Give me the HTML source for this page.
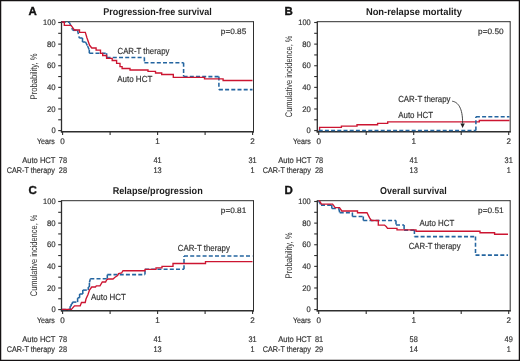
<!DOCTYPE html>
<html><head><meta charset="utf-8"><style>
html,body{margin:0;padding:0;background:#fff;}
body{width:520px;height:361px;overflow:hidden;}
svg{display:block;font-family:"Liberation Sans", sans-serif;will-change:transform;text-rendering:geometricPrecision;filter:blur(0.25px);}
</style></head><body>
<svg width="520" height="361" viewBox="0 0 520 361">
<rect x="0" y="0" width="520" height="361" fill="#fff"/>
<text x="28.6" y="14.8" font-size="11.6" text-anchor="start" font-weight="bold" fill="#111" textLength="8.3" lengthAdjust="spacingAndGlyphs" stroke="#111" stroke-width="0.35">A</text>
<text x="103.2" y="14.8" font-size="9.9" text-anchor="start" font-weight="bold" fill="#1c1c1c" textLength="108.5" lengthAdjust="spacingAndGlyphs">Progression-free survival</text>
<line x1="61.5" y1="21.7" x2="253.5" y2="21.7" stroke="#2e2e2e" stroke-width="1.0"/>
<line x1="253.5" y1="21.2" x2="253.5" y2="132.4" stroke="#2e2e2e" stroke-width="1.0"/>
<line x1="61.5" y1="21.2" x2="61.5" y2="132.5" stroke="#2e2e2e" stroke-width="1.3"/>
<line x1="60.9" y1="131.8" x2="254.0" y2="131.8" stroke="#2e2e2e" stroke-width="1.4"/>
<line x1="58.2" y1="130.6" x2="61.5" y2="130.6" stroke="#2e2e2e" stroke-width="1.1"/>
<line x1="58.2" y1="119.78999999999999" x2="61.5" y2="119.78999999999999" stroke="#2e2e2e" stroke-width="1.1"/>
<line x1="58.2" y1="108.97999999999999" x2="61.5" y2="108.97999999999999" stroke="#2e2e2e" stroke-width="1.1"/>
<line x1="58.2" y1="98.16999999999999" x2="61.5" y2="98.16999999999999" stroke="#2e2e2e" stroke-width="1.1"/>
<line x1="58.2" y1="87.36" x2="61.5" y2="87.36" stroke="#2e2e2e" stroke-width="1.1"/>
<line x1="58.2" y1="76.55" x2="61.5" y2="76.55" stroke="#2e2e2e" stroke-width="1.1"/>
<line x1="58.2" y1="65.74" x2="61.5" y2="65.74" stroke="#2e2e2e" stroke-width="1.1"/>
<line x1="58.2" y1="54.92999999999999" x2="61.5" y2="54.92999999999999" stroke="#2e2e2e" stroke-width="1.1"/>
<line x1="58.2" y1="44.120000000000005" x2="61.5" y2="44.120000000000005" stroke="#2e2e2e" stroke-width="1.1"/>
<line x1="58.2" y1="33.31" x2="61.5" y2="33.31" stroke="#2e2e2e" stroke-width="1.1"/>
<line x1="58.2" y1="22.5" x2="61.5" y2="22.5" stroke="#2e2e2e" stroke-width="1.1"/>
<text x="55.6" y="133.35" font-size="8.0" text-anchor="end" font-weight="normal" fill="#333333" textLength="4.2" lengthAdjust="spacingAndGlyphs" stroke="#333333" stroke-width="0.18">0</text>
<text x="55.6" y="111.72999999999999" font-size="8.0" text-anchor="end" font-weight="normal" fill="#333333" textLength="8.6" lengthAdjust="spacingAndGlyphs" stroke="#333333" stroke-width="0.18">20</text>
<text x="55.6" y="90.11" font-size="8.0" text-anchor="end" font-weight="normal" fill="#333333" textLength="8.6" lengthAdjust="spacingAndGlyphs" stroke="#333333" stroke-width="0.18">40</text>
<text x="55.6" y="68.49" font-size="8.0" text-anchor="end" font-weight="normal" fill="#333333" textLength="8.6" lengthAdjust="spacingAndGlyphs" stroke="#333333" stroke-width="0.18">60</text>
<text x="55.6" y="46.870000000000005" font-size="8.0" text-anchor="end" font-weight="normal" fill="#333333" textLength="8.6" lengthAdjust="spacingAndGlyphs" stroke="#333333" stroke-width="0.18">80</text>
<text x="55.6" y="25.25" font-size="8.0" text-anchor="end" font-weight="normal" fill="#333333" textLength="12.5" lengthAdjust="spacingAndGlyphs" stroke="#333333" stroke-width="0.18">100</text>
<line x1="62.6" y1="131.8" x2="62.6" y2="135.0" stroke="#2e2e2e" stroke-width="1.1"/>
<line x1="110.1" y1="131.8" x2="110.1" y2="135.0" stroke="#2e2e2e" stroke-width="1.1"/>
<line x1="157.6" y1="131.8" x2="157.6" y2="135.0" stroke="#2e2e2e" stroke-width="1.1"/>
<line x1="205.1" y1="131.8" x2="205.1" y2="135.0" stroke="#2e2e2e" stroke-width="1.1"/>
<line x1="252.6" y1="131.8" x2="252.6" y2="135.0" stroke="#2e2e2e" stroke-width="1.1"/>
<text x="62.6" y="144.1" font-size="8.2" text-anchor="middle" font-weight="normal" fill="#333333" textLength="4.5" lengthAdjust="spacingAndGlyphs" stroke="#333333" stroke-width="0.18">0</text>
<text x="157.6" y="144.1" font-size="8.2" text-anchor="middle" font-weight="normal" fill="#333333" textLength="4.5" lengthAdjust="spacingAndGlyphs" stroke="#333333" stroke-width="0.18">1</text>
<text x="252.6" y="144.1" font-size="8.2" text-anchor="middle" font-weight="normal" fill="#333333" textLength="4.5" lengthAdjust="spacingAndGlyphs" stroke="#333333" stroke-width="0.18">2</text>
<text x="54.8" y="144.1" font-size="8.0" text-anchor="end" font-weight="normal" fill="#333333" textLength="17.8" lengthAdjust="spacingAndGlyphs" stroke="#333333" stroke-width="0.18">Years</text>
<text x="0" y="0" font-size="9.6" text-anchor="middle" fill="#333333" textLength="46" lengthAdjust="spacingAndGlyphs" transform="translate(36.6,76.4) rotate(-90)">Probability, %</text>
<text x="246.3" y="33.7" font-size="7.9" text-anchor="end" font-weight="normal" fill="#333333" textLength="25.5" lengthAdjust="spacingAndGlyphs" stroke="#333333" stroke-width="0.18">p=0.85</text>
<text x="55.5" y="163.2" font-size="8.2" text-anchor="end" font-weight="normal" fill="#333333" textLength="33.3" lengthAdjust="spacingAndGlyphs" stroke="#333333" stroke-width="0.18">Auto HCT</text>
<text x="54.9" y="173.1" font-size="8.2" text-anchor="end" font-weight="normal" fill="#333333" textLength="48.2" lengthAdjust="spacingAndGlyphs" stroke="#333333" stroke-width="0.18">CAR-T therapy</text>
<text x="62.9" y="163.2" font-size="8.2" text-anchor="middle" font-weight="normal" fill="#333333" textLength="8.2" lengthAdjust="spacingAndGlyphs" stroke="#333333" stroke-width="0.18">78</text>
<text x="62.9" y="173.1" font-size="8.2" text-anchor="middle" font-weight="normal" fill="#333333" textLength="8.2" lengthAdjust="spacingAndGlyphs" stroke="#333333" stroke-width="0.18">28</text>
<text x="157.6" y="163.2" font-size="8.2" text-anchor="middle" font-weight="normal" fill="#333333" textLength="8.2" lengthAdjust="spacingAndGlyphs" stroke="#333333" stroke-width="0.18">41</text>
<text x="157.6" y="173.1" font-size="8.2" text-anchor="middle" font-weight="normal" fill="#333333" textLength="8.2" lengthAdjust="spacingAndGlyphs" stroke="#333333" stroke-width="0.18">13</text>
<text x="252.6" y="163.2" font-size="8.2" text-anchor="middle" font-weight="normal" fill="#333333" textLength="8.2" lengthAdjust="spacingAndGlyphs" stroke="#333333" stroke-width="0.18">31</text>
<text x="252.6" y="173.1" font-size="8.2" text-anchor="middle" font-weight="normal" fill="#333333" textLength="4.0" lengthAdjust="spacingAndGlyphs" stroke="#333333" stroke-width="0.18">1</text>
<text x="284.6" y="14.8" font-size="11.6" text-anchor="start" font-weight="bold" fill="#111" textLength="8.3" lengthAdjust="spacingAndGlyphs" stroke="#111" stroke-width="0.35">B</text>
<text x="365.9" y="14.8" font-size="9.9" text-anchor="start" font-weight="bold" fill="#1c1c1c" textLength="96.0" lengthAdjust="spacingAndGlyphs">Non-relapse mortality</text>
<line x1="317.3" y1="21.7" x2="510.2" y2="21.7" stroke="#2e2e2e" stroke-width="1.0"/>
<line x1="510.2" y1="21.2" x2="510.2" y2="132.4" stroke="#2e2e2e" stroke-width="1.0"/>
<line x1="317.3" y1="21.2" x2="317.3" y2="132.5" stroke="#2e2e2e" stroke-width="1.3"/>
<line x1="316.7" y1="131.8" x2="510.7" y2="131.8" stroke="#2e2e2e" stroke-width="1.4"/>
<line x1="314.2" y1="130.6" x2="317.3" y2="130.6" stroke="#2e2e2e" stroke-width="1.1"/>
<line x1="314.2" y1="119.78999999999999" x2="317.3" y2="119.78999999999999" stroke="#2e2e2e" stroke-width="1.1"/>
<line x1="314.2" y1="108.97999999999999" x2="317.3" y2="108.97999999999999" stroke="#2e2e2e" stroke-width="1.1"/>
<line x1="314.2" y1="98.16999999999999" x2="317.3" y2="98.16999999999999" stroke="#2e2e2e" stroke-width="1.1"/>
<line x1="314.2" y1="87.36" x2="317.3" y2="87.36" stroke="#2e2e2e" stroke-width="1.1"/>
<line x1="314.2" y1="76.55" x2="317.3" y2="76.55" stroke="#2e2e2e" stroke-width="1.1"/>
<line x1="314.2" y1="65.74" x2="317.3" y2="65.74" stroke="#2e2e2e" stroke-width="1.1"/>
<line x1="314.2" y1="54.92999999999999" x2="317.3" y2="54.92999999999999" stroke="#2e2e2e" stroke-width="1.1"/>
<line x1="314.2" y1="44.120000000000005" x2="317.3" y2="44.120000000000005" stroke="#2e2e2e" stroke-width="1.1"/>
<line x1="314.2" y1="33.31" x2="317.3" y2="33.31" stroke="#2e2e2e" stroke-width="1.1"/>
<line x1="314.2" y1="22.5" x2="317.3" y2="22.5" stroke="#2e2e2e" stroke-width="1.1"/>
<text x="310.8" y="133.35" font-size="8.0" text-anchor="end" font-weight="normal" fill="#333333" textLength="4.2" lengthAdjust="spacingAndGlyphs" stroke="#333333" stroke-width="0.18">0</text>
<text x="310.8" y="111.72999999999999" font-size="8.0" text-anchor="end" font-weight="normal" fill="#333333" textLength="8.6" lengthAdjust="spacingAndGlyphs" stroke="#333333" stroke-width="0.18">20</text>
<text x="310.8" y="90.11" font-size="8.0" text-anchor="end" font-weight="normal" fill="#333333" textLength="8.6" lengthAdjust="spacingAndGlyphs" stroke="#333333" stroke-width="0.18">40</text>
<text x="310.8" y="68.49" font-size="8.0" text-anchor="end" font-weight="normal" fill="#333333" textLength="8.6" lengthAdjust="spacingAndGlyphs" stroke="#333333" stroke-width="0.18">60</text>
<text x="310.8" y="46.870000000000005" font-size="8.0" text-anchor="end" font-weight="normal" fill="#333333" textLength="8.6" lengthAdjust="spacingAndGlyphs" stroke="#333333" stroke-width="0.18">80</text>
<text x="310.8" y="25.25" font-size="8.0" text-anchor="end" font-weight="normal" fill="#333333" textLength="12.5" lengthAdjust="spacingAndGlyphs" stroke="#333333" stroke-width="0.18">100</text>
<line x1="318.7" y1="131.8" x2="318.7" y2="135.0" stroke="#2e2e2e" stroke-width="1.1"/>
<line x1="366.2" y1="131.8" x2="366.2" y2="135.0" stroke="#2e2e2e" stroke-width="1.1"/>
<line x1="413.7" y1="131.8" x2="413.7" y2="135.0" stroke="#2e2e2e" stroke-width="1.1"/>
<line x1="461.2" y1="131.8" x2="461.2" y2="135.0" stroke="#2e2e2e" stroke-width="1.1"/>
<line x1="508.7" y1="131.8" x2="508.7" y2="135.0" stroke="#2e2e2e" stroke-width="1.1"/>
<text x="318.7" y="144.1" font-size="8.2" text-anchor="middle" font-weight="normal" fill="#333333" textLength="4.5" lengthAdjust="spacingAndGlyphs" stroke="#333333" stroke-width="0.18">0</text>
<text x="413.7" y="144.1" font-size="8.2" text-anchor="middle" font-weight="normal" fill="#333333" textLength="4.5" lengthAdjust="spacingAndGlyphs" stroke="#333333" stroke-width="0.18">1</text>
<text x="508.7" y="144.1" font-size="8.2" text-anchor="middle" font-weight="normal" fill="#333333" textLength="4.5" lengthAdjust="spacingAndGlyphs" stroke="#333333" stroke-width="0.18">2</text>
<text x="310.8" y="144.1" font-size="8.0" text-anchor="end" font-weight="normal" fill="#333333" textLength="17.8" lengthAdjust="spacingAndGlyphs" stroke="#333333" stroke-width="0.18">Years</text>
<text x="0" y="0" font-size="9.6" text-anchor="middle" fill="#333333" textLength="81.6" lengthAdjust="spacingAndGlyphs" transform="translate(292.0,76.4) rotate(-90)">Cumulative incidence, %</text>
<text x="503.6" y="33.7" font-size="7.9" text-anchor="end" font-weight="normal" fill="#333333" textLength="25.5" lengthAdjust="spacingAndGlyphs" stroke="#333333" stroke-width="0.18">p=0.50</text>
<text x="311.5" y="163.2" font-size="8.2" text-anchor="end" font-weight="normal" fill="#333333" textLength="33.3" lengthAdjust="spacingAndGlyphs" stroke="#333333" stroke-width="0.18">Auto HCT</text>
<text x="310.9" y="173.1" font-size="8.2" text-anchor="end" font-weight="normal" fill="#333333" textLength="48.2" lengthAdjust="spacingAndGlyphs" stroke="#333333" stroke-width="0.18">CAR-T therapy</text>
<text x="319.0" y="163.2" font-size="8.2" text-anchor="middle" font-weight="normal" fill="#333333" textLength="8.2" lengthAdjust="spacingAndGlyphs" stroke="#333333" stroke-width="0.18">78</text>
<text x="319.0" y="173.1" font-size="8.2" text-anchor="middle" font-weight="normal" fill="#333333" textLength="8.2" lengthAdjust="spacingAndGlyphs" stroke="#333333" stroke-width="0.18">28</text>
<text x="413.7" y="163.2" font-size="8.2" text-anchor="middle" font-weight="normal" fill="#333333" textLength="8.2" lengthAdjust="spacingAndGlyphs" stroke="#333333" stroke-width="0.18">41</text>
<text x="413.7" y="173.1" font-size="8.2" text-anchor="middle" font-weight="normal" fill="#333333" textLength="8.2" lengthAdjust="spacingAndGlyphs" stroke="#333333" stroke-width="0.18">13</text>
<text x="508.7" y="163.2" font-size="8.2" text-anchor="middle" font-weight="normal" fill="#333333" textLength="8.2" lengthAdjust="spacingAndGlyphs" stroke="#333333" stroke-width="0.18">31</text>
<text x="508.7" y="173.1" font-size="8.2" text-anchor="middle" font-weight="normal" fill="#333333" textLength="4.0" lengthAdjust="spacingAndGlyphs" stroke="#333333" stroke-width="0.18">1</text>
<text x="28.6" y="193.8" font-size="11.6" text-anchor="start" font-weight="bold" fill="#111" textLength="8.3" lengthAdjust="spacingAndGlyphs" stroke="#111" stroke-width="0.35">C</text>
<text x="112.7" y="193.8" font-size="9.9" text-anchor="start" font-weight="bold" fill="#1c1c1c" textLength="90.0" lengthAdjust="spacingAndGlyphs">Relapse/progression</text>
<line x1="61.5" y1="200.7" x2="253.5" y2="200.7" stroke="#2e2e2e" stroke-width="1.0"/>
<line x1="253.5" y1="200.2" x2="253.5" y2="311.40000000000003" stroke="#2e2e2e" stroke-width="1.0"/>
<line x1="61.5" y1="200.2" x2="61.5" y2="311.5" stroke="#2e2e2e" stroke-width="1.3"/>
<line x1="60.9" y1="310.8" x2="254.0" y2="310.8" stroke="#2e2e2e" stroke-width="1.4"/>
<line x1="58.2" y1="309.6" x2="61.5" y2="309.6" stroke="#2e2e2e" stroke-width="1.1"/>
<line x1="58.2" y1="298.79" x2="61.5" y2="298.79" stroke="#2e2e2e" stroke-width="1.1"/>
<line x1="58.2" y1="287.98" x2="61.5" y2="287.98" stroke="#2e2e2e" stroke-width="1.1"/>
<line x1="58.2" y1="277.17" x2="61.5" y2="277.17" stroke="#2e2e2e" stroke-width="1.1"/>
<line x1="58.2" y1="266.36" x2="61.5" y2="266.36" stroke="#2e2e2e" stroke-width="1.1"/>
<line x1="58.2" y1="255.55" x2="61.5" y2="255.55" stroke="#2e2e2e" stroke-width="1.1"/>
<line x1="58.2" y1="244.74" x2="61.5" y2="244.74" stroke="#2e2e2e" stroke-width="1.1"/>
<line x1="58.2" y1="233.93" x2="61.5" y2="233.93" stroke="#2e2e2e" stroke-width="1.1"/>
<line x1="58.2" y1="223.12000000000003" x2="61.5" y2="223.12000000000003" stroke="#2e2e2e" stroke-width="1.1"/>
<line x1="58.2" y1="212.31000000000003" x2="61.5" y2="212.31000000000003" stroke="#2e2e2e" stroke-width="1.1"/>
<line x1="58.2" y1="201.50000000000003" x2="61.5" y2="201.50000000000003" stroke="#2e2e2e" stroke-width="1.1"/>
<text x="55.6" y="312.35" font-size="8.0" text-anchor="end" font-weight="normal" fill="#333333" textLength="4.2" lengthAdjust="spacingAndGlyphs" stroke="#333333" stroke-width="0.18">0</text>
<text x="55.6" y="290.73" font-size="8.0" text-anchor="end" font-weight="normal" fill="#333333" textLength="8.6" lengthAdjust="spacingAndGlyphs" stroke="#333333" stroke-width="0.18">20</text>
<text x="55.6" y="269.11" font-size="8.0" text-anchor="end" font-weight="normal" fill="#333333" textLength="8.6" lengthAdjust="spacingAndGlyphs" stroke="#333333" stroke-width="0.18">40</text>
<text x="55.6" y="247.49" font-size="8.0" text-anchor="end" font-weight="normal" fill="#333333" textLength="8.6" lengthAdjust="spacingAndGlyphs" stroke="#333333" stroke-width="0.18">60</text>
<text x="55.6" y="225.87000000000003" font-size="8.0" text-anchor="end" font-weight="normal" fill="#333333" textLength="8.6" lengthAdjust="spacingAndGlyphs" stroke="#333333" stroke-width="0.18">80</text>
<text x="55.6" y="204.25000000000003" font-size="8.0" text-anchor="end" font-weight="normal" fill="#333333" textLength="12.5" lengthAdjust="spacingAndGlyphs" stroke="#333333" stroke-width="0.18">100</text>
<line x1="62.6" y1="310.8" x2="62.6" y2="314.0" stroke="#2e2e2e" stroke-width="1.1"/>
<line x1="110.1" y1="310.8" x2="110.1" y2="314.0" stroke="#2e2e2e" stroke-width="1.1"/>
<line x1="157.6" y1="310.8" x2="157.6" y2="314.0" stroke="#2e2e2e" stroke-width="1.1"/>
<line x1="205.1" y1="310.8" x2="205.1" y2="314.0" stroke="#2e2e2e" stroke-width="1.1"/>
<line x1="252.6" y1="310.8" x2="252.6" y2="314.0" stroke="#2e2e2e" stroke-width="1.1"/>
<text x="62.6" y="323.1" font-size="8.2" text-anchor="middle" font-weight="normal" fill="#333333" textLength="4.5" lengthAdjust="spacingAndGlyphs" stroke="#333333" stroke-width="0.18">0</text>
<text x="157.6" y="323.1" font-size="8.2" text-anchor="middle" font-weight="normal" fill="#333333" textLength="4.5" lengthAdjust="spacingAndGlyphs" stroke="#333333" stroke-width="0.18">1</text>
<text x="252.6" y="323.1" font-size="8.2" text-anchor="middle" font-weight="normal" fill="#333333" textLength="4.5" lengthAdjust="spacingAndGlyphs" stroke="#333333" stroke-width="0.18">2</text>
<text x="54.8" y="323.1" font-size="8.0" text-anchor="end" font-weight="normal" fill="#333333" textLength="17.8" lengthAdjust="spacingAndGlyphs" stroke="#333333" stroke-width="0.18">Years</text>
<text x="0" y="0" font-size="9.6" text-anchor="middle" fill="#333333" textLength="81.6" lengthAdjust="spacingAndGlyphs" transform="translate(36.6,255.4) rotate(-90)">Cumulative incidence, %</text>
<text x="246.3" y="212.7" font-size="7.9" text-anchor="end" font-weight="normal" fill="#333333" textLength="25.5" lengthAdjust="spacingAndGlyphs" stroke="#333333" stroke-width="0.18">p=0.81</text>
<text x="55.5" y="342.2" font-size="8.2" text-anchor="end" font-weight="normal" fill="#333333" textLength="33.3" lengthAdjust="spacingAndGlyphs" stroke="#333333" stroke-width="0.18">Auto HCT</text>
<text x="54.9" y="352.1" font-size="8.2" text-anchor="end" font-weight="normal" fill="#333333" textLength="48.2" lengthAdjust="spacingAndGlyphs" stroke="#333333" stroke-width="0.18">CAR-T therapy</text>
<text x="62.9" y="342.2" font-size="8.2" text-anchor="middle" font-weight="normal" fill="#333333" textLength="8.2" lengthAdjust="spacingAndGlyphs" stroke="#333333" stroke-width="0.18">78</text>
<text x="62.9" y="352.1" font-size="8.2" text-anchor="middle" font-weight="normal" fill="#333333" textLength="8.2" lengthAdjust="spacingAndGlyphs" stroke="#333333" stroke-width="0.18">28</text>
<text x="157.6" y="342.2" font-size="8.2" text-anchor="middle" font-weight="normal" fill="#333333" textLength="8.2" lengthAdjust="spacingAndGlyphs" stroke="#333333" stroke-width="0.18">41</text>
<text x="157.6" y="352.1" font-size="8.2" text-anchor="middle" font-weight="normal" fill="#333333" textLength="8.2" lengthAdjust="spacingAndGlyphs" stroke="#333333" stroke-width="0.18">13</text>
<text x="252.6" y="342.2" font-size="8.2" text-anchor="middle" font-weight="normal" fill="#333333" textLength="8.2" lengthAdjust="spacingAndGlyphs" stroke="#333333" stroke-width="0.18">31</text>
<text x="252.6" y="352.1" font-size="8.2" text-anchor="middle" font-weight="normal" fill="#333333" textLength="4.0" lengthAdjust="spacingAndGlyphs" stroke="#333333" stroke-width="0.18">1</text>
<text x="284.6" y="193.8" font-size="11.6" text-anchor="start" font-weight="bold" fill="#111" textLength="8.3" lengthAdjust="spacingAndGlyphs" stroke="#111" stroke-width="0.35">D</text>
<text x="380.1" y="193.8" font-size="9.9" text-anchor="start" font-weight="bold" fill="#1c1c1c" textLength="66.6" lengthAdjust="spacingAndGlyphs">Overall survival</text>
<line x1="317.3" y1="200.7" x2="510.2" y2="200.7" stroke="#2e2e2e" stroke-width="1.0"/>
<line x1="510.2" y1="200.2" x2="510.2" y2="311.40000000000003" stroke="#2e2e2e" stroke-width="1.0"/>
<line x1="317.3" y1="200.2" x2="317.3" y2="311.5" stroke="#2e2e2e" stroke-width="1.3"/>
<line x1="316.7" y1="310.8" x2="510.7" y2="310.8" stroke="#2e2e2e" stroke-width="1.4"/>
<line x1="314.2" y1="309.6" x2="317.3" y2="309.6" stroke="#2e2e2e" stroke-width="1.1"/>
<line x1="314.2" y1="298.79" x2="317.3" y2="298.79" stroke="#2e2e2e" stroke-width="1.1"/>
<line x1="314.2" y1="287.98" x2="317.3" y2="287.98" stroke="#2e2e2e" stroke-width="1.1"/>
<line x1="314.2" y1="277.17" x2="317.3" y2="277.17" stroke="#2e2e2e" stroke-width="1.1"/>
<line x1="314.2" y1="266.36" x2="317.3" y2="266.36" stroke="#2e2e2e" stroke-width="1.1"/>
<line x1="314.2" y1="255.55" x2="317.3" y2="255.55" stroke="#2e2e2e" stroke-width="1.1"/>
<line x1="314.2" y1="244.74" x2="317.3" y2="244.74" stroke="#2e2e2e" stroke-width="1.1"/>
<line x1="314.2" y1="233.93" x2="317.3" y2="233.93" stroke="#2e2e2e" stroke-width="1.1"/>
<line x1="314.2" y1="223.12000000000003" x2="317.3" y2="223.12000000000003" stroke="#2e2e2e" stroke-width="1.1"/>
<line x1="314.2" y1="212.31000000000003" x2="317.3" y2="212.31000000000003" stroke="#2e2e2e" stroke-width="1.1"/>
<line x1="314.2" y1="201.50000000000003" x2="317.3" y2="201.50000000000003" stroke="#2e2e2e" stroke-width="1.1"/>
<text x="310.8" y="312.35" font-size="8.0" text-anchor="end" font-weight="normal" fill="#333333" textLength="4.2" lengthAdjust="spacingAndGlyphs" stroke="#333333" stroke-width="0.18">0</text>
<text x="310.8" y="290.73" font-size="8.0" text-anchor="end" font-weight="normal" fill="#333333" textLength="8.6" lengthAdjust="spacingAndGlyphs" stroke="#333333" stroke-width="0.18">20</text>
<text x="310.8" y="269.11" font-size="8.0" text-anchor="end" font-weight="normal" fill="#333333" textLength="8.6" lengthAdjust="spacingAndGlyphs" stroke="#333333" stroke-width="0.18">40</text>
<text x="310.8" y="247.49" font-size="8.0" text-anchor="end" font-weight="normal" fill="#333333" textLength="8.6" lengthAdjust="spacingAndGlyphs" stroke="#333333" stroke-width="0.18">60</text>
<text x="310.8" y="225.87000000000003" font-size="8.0" text-anchor="end" font-weight="normal" fill="#333333" textLength="8.6" lengthAdjust="spacingAndGlyphs" stroke="#333333" stroke-width="0.18">80</text>
<text x="310.8" y="204.25000000000003" font-size="8.0" text-anchor="end" font-weight="normal" fill="#333333" textLength="12.5" lengthAdjust="spacingAndGlyphs" stroke="#333333" stroke-width="0.18">100</text>
<line x1="318.7" y1="310.8" x2="318.7" y2="314.0" stroke="#2e2e2e" stroke-width="1.1"/>
<line x1="366.2" y1="310.8" x2="366.2" y2="314.0" stroke="#2e2e2e" stroke-width="1.1"/>
<line x1="413.7" y1="310.8" x2="413.7" y2="314.0" stroke="#2e2e2e" stroke-width="1.1"/>
<line x1="461.2" y1="310.8" x2="461.2" y2="314.0" stroke="#2e2e2e" stroke-width="1.1"/>
<line x1="508.7" y1="310.8" x2="508.7" y2="314.0" stroke="#2e2e2e" stroke-width="1.1"/>
<text x="318.7" y="323.1" font-size="8.2" text-anchor="middle" font-weight="normal" fill="#333333" textLength="4.5" lengthAdjust="spacingAndGlyphs" stroke="#333333" stroke-width="0.18">0</text>
<text x="413.7" y="323.1" font-size="8.2" text-anchor="middle" font-weight="normal" fill="#333333" textLength="4.5" lengthAdjust="spacingAndGlyphs" stroke="#333333" stroke-width="0.18">1</text>
<text x="508.7" y="323.1" font-size="8.2" text-anchor="middle" font-weight="normal" fill="#333333" textLength="4.5" lengthAdjust="spacingAndGlyphs" stroke="#333333" stroke-width="0.18">2</text>
<text x="310.8" y="323.1" font-size="8.0" text-anchor="end" font-weight="normal" fill="#333333" textLength="17.8" lengthAdjust="spacingAndGlyphs" stroke="#333333" stroke-width="0.18">Years</text>
<text x="0" y="0" font-size="9.6" text-anchor="middle" fill="#333333" textLength="46" lengthAdjust="spacingAndGlyphs" transform="translate(292.0,255.4) rotate(-90)">Probability, %</text>
<text x="503.6" y="212.7" font-size="7.9" text-anchor="end" font-weight="normal" fill="#333333" textLength="25.5" lengthAdjust="spacingAndGlyphs" stroke="#333333" stroke-width="0.18">p=0.51</text>
<text x="311.5" y="342.2" font-size="8.2" text-anchor="end" font-weight="normal" fill="#333333" textLength="33.3" lengthAdjust="spacingAndGlyphs" stroke="#333333" stroke-width="0.18">Auto HCT</text>
<text x="310.9" y="352.1" font-size="8.2" text-anchor="end" font-weight="normal" fill="#333333" textLength="48.2" lengthAdjust="spacingAndGlyphs" stroke="#333333" stroke-width="0.18">CAR-T therapy</text>
<text x="319.0" y="342.2" font-size="8.2" text-anchor="middle" font-weight="normal" fill="#333333" textLength="8.2" lengthAdjust="spacingAndGlyphs" stroke="#333333" stroke-width="0.18">81</text>
<text x="319.0" y="352.1" font-size="8.2" text-anchor="middle" font-weight="normal" fill="#333333" textLength="8.2" lengthAdjust="spacingAndGlyphs" stroke="#333333" stroke-width="0.18">29</text>
<text x="413.7" y="342.2" font-size="8.2" text-anchor="middle" font-weight="normal" fill="#333333" textLength="8.2" lengthAdjust="spacingAndGlyphs" stroke="#333333" stroke-width="0.18">58</text>
<text x="413.7" y="352.1" font-size="8.2" text-anchor="middle" font-weight="normal" fill="#333333" textLength="8.2" lengthAdjust="spacingAndGlyphs" stroke="#333333" stroke-width="0.18">14</text>
<text x="508.7" y="342.2" font-size="8.2" text-anchor="middle" font-weight="normal" fill="#333333" textLength="8.2" lengthAdjust="spacingAndGlyphs" stroke="#333333" stroke-width="0.18">49</text>
<text x="508.7" y="352.1" font-size="8.2" text-anchor="middle" font-weight="normal" fill="#333333" textLength="4.0" lengthAdjust="spacingAndGlyphs" stroke="#333333" stroke-width="0.18">1</text>
<path d="M61.7,22.3 L69.3,22.3" fill="none" stroke="#2465a0" stroke-width="1.55" stroke-dasharray="4.0 2.2"/>
<path d="M69.3,22.3 L72.6,29.6" fill="none" stroke="#2465a0" stroke-width="1.55" stroke-dasharray="4.0 2.2"/>
<path d="M72.6,29.6 L72.6,30.3" fill="none" stroke="#2465a0" stroke-width="1.55" stroke-dasharray="4.0 2.2"/>
<path d="M72.6,30.3 L77.5,30.3" fill="none" stroke="#2465a0" stroke-width="1.55" stroke-dasharray="4.0 2.2"/>
<path d="M77.5,30.3 L79.3,38.0" fill="none" stroke="#2465a0" stroke-width="1.55" stroke-dasharray="4.0 2.2"/>
<path d="M79.3,38.0 L82.5,38.0" fill="none" stroke="#2465a0" stroke-width="1.55" stroke-dasharray="4.0 2.2"/>
<path d="M82.5,38.0 L82.5,42.0" fill="none" stroke="#2465a0" stroke-width="1.55" stroke-dasharray="4.0 2.2"/>
<path d="M82.5,42.0 L85.5,42.0" fill="none" stroke="#2465a0" stroke-width="1.55" stroke-dasharray="4.0 2.2"/>
<path d="M85.5,42.0 L87.6,46.0" fill="none" stroke="#2465a0" stroke-width="1.55" stroke-dasharray="4.0 2.2"/>
<path d="M87.6,46.0 L89.3,50.0" fill="none" stroke="#2465a0" stroke-width="1.55" stroke-dasharray="4.0 2.2"/>
<path d="M89.3,50.0 L89.3,53.2" fill="none" stroke="#2465a0" stroke-width="1.55" stroke-dasharray="4.0 2.2"/>
<path d="M89.3,53.2 L106.6,53.2" fill="none" stroke="#2465a0" stroke-width="1.55" stroke-dasharray="4.0 2.2"/>
<path d="M106.6,53.2 L106.6,57.4" fill="none" stroke="#2465a0" stroke-width="1.55" stroke-dasharray="4.0 2.2"/>
<path d="M106.6,57.4 L144.4,57.4" fill="none" stroke="#2465a0" stroke-width="1.55" stroke-dasharray="4.0 2.2"/>
<path d="M144.4,57.4 L144.4,62.7" fill="none" stroke="#2465a0" stroke-width="1.55" stroke-dasharray="4.0 2.2"/>
<path d="M144.4,62.7 L183.6,62.7" fill="none" stroke="#2465a0" stroke-width="1.55" stroke-dasharray="4.0 2.2"/>
<path d="M183.6,62.7 L183.6,76.6" fill="none" stroke="#2465a0" stroke-width="1.55" stroke-dasharray="4.0 2.2"/>
<path d="M183.6,76.6 L218.9,76.6" fill="none" stroke="#2465a0" stroke-width="1.55" stroke-dasharray="4.0 2.2"/>
<path d="M218.9,76.6 L218.9,89.6" fill="none" stroke="#2465a0" stroke-width="1.55" stroke-dasharray="4.0 2.2"/>
<path d="M218.9,89.6 L252.5,89.6" fill="none" stroke="#2465a0" stroke-width="1.55" stroke-dasharray="4.0 2.2"/>
<path d="M61.7,22 H64.3 V25.3 H71 L72,26.6 L74.3,30 H79.5 V32.3 H85.3 L87,38 L89.6,45.3 L91.8,48 H96.1 V50.1 H100.5 V53.3 H102.7 V55.5 H106.6 V58.3 H112.2 V60.5 H116.6 V63.3 H120 V66.6 H122.1 V68.5 H130 V70 H148 V71.3 H155.5 V73 H161.7 V74.5 H173.3 V77.4 H204.5 V78.9 H223.1 V80.5 H252.5" fill="none" stroke="#cc1531" stroke-width="1.35" stroke-linejoin="miter"/>
<text x="117.5" y="53.5" font-size="8.8" text-anchor="start" font-weight="normal" fill="#333333" textLength="51.9" lengthAdjust="spacingAndGlyphs" stroke="#333333" stroke-width="0.18">CAR-T therapy</text>
<text x="117.2" y="81.5" font-size="8.8" text-anchor="start" font-weight="normal" fill="#333333" textLength="35.1" lengthAdjust="spacingAndGlyphs" stroke="#333333" stroke-width="0.18">Auto HCT</text>
<path d="M318.7,130.4 H319.6 V127.3 H341.4 V126.1 H357 V124.7 H377.6 V123.3 H387.7 V121.8 H479.3 V120.5 H509.5" fill="none" stroke="#cc1531" stroke-width="1.35" stroke-linejoin="miter"/>
<path d="M318.7,130.5 L475.9,130.5" fill="none" stroke="#2465a0" stroke-width="1.55" stroke-dasharray="4.0 2.2"/>
<path d="M475.9,130.5 L475.9,116.8" fill="none" stroke="#2465a0" stroke-width="1.55" stroke-dasharray="4.0 2.2"/>
<path d="M475.9,116.8 L509.5,116.8" fill="none" stroke="#2465a0" stroke-width="1.55" stroke-dasharray="4.0 2.2"/>
<text x="398.2" y="101.7" font-size="8.8" text-anchor="start" font-weight="normal" fill="#333333" textLength="52.3" lengthAdjust="spacingAndGlyphs" stroke="#333333" stroke-width="0.18">CAR-T therapy</text>
<text x="398.2" y="117.5" font-size="8.8" text-anchor="start" font-weight="normal" fill="#333333" textLength="34.8" lengthAdjust="spacingAndGlyphs" stroke="#333333" stroke-width="0.18">Auto HCT</text>
<path d="M452.2,101.2 C458,102 462.8,108 462.6,123.5" fill="none" stroke="#333" stroke-width="0.9"/>
<path d="M460.4,123.6 L464.8,123.6 L462.6,128 Z" fill="#222"/>
<path d="M61.8,309.4 L70.1,309.4" fill="none" stroke="#2465a0" stroke-width="1.55" stroke-dasharray="4.0 2.2"/>
<path d="M70.1,309.4 L70.1,306.2" fill="none" stroke="#2465a0" stroke-width="1.55" stroke-dasharray="4.0 2.2"/>
<path d="M70.1,306.2 L71.2,306.2" fill="none" stroke="#2465a0" stroke-width="1.55" stroke-dasharray="4.0 2.2"/>
<path d="M71.2,306.2 L71.2,304.0" fill="none" stroke="#2465a0" stroke-width="1.55" stroke-dasharray="4.0 2.2"/>
<path d="M71.2,304.0 L72.4,304.0" fill="none" stroke="#2465a0" stroke-width="1.55" stroke-dasharray="4.0 2.2"/>
<path d="M72.4,304.0 L72.4,302.1" fill="none" stroke="#2465a0" stroke-width="1.55" stroke-dasharray="4.0 2.2"/>
<path d="M72.4,302.1 L77.6,302.1" fill="none" stroke="#2465a0" stroke-width="1.55" stroke-dasharray="4.0 2.2"/>
<path d="M77.6,302.1 L77.6,297.8" fill="none" stroke="#2465a0" stroke-width="1.55" stroke-dasharray="4.0 2.2"/>
<path d="M77.6,297.8 L79.6,297.8" fill="none" stroke="#2465a0" stroke-width="1.55" stroke-dasharray="4.0 2.2"/>
<path d="M79.6,297.8 L79.6,294.0" fill="none" stroke="#2465a0" stroke-width="1.55" stroke-dasharray="4.0 2.2"/>
<path d="M79.6,294.0 L82.8,294.0" fill="none" stroke="#2465a0" stroke-width="1.55" stroke-dasharray="4.0 2.2"/>
<path d="M82.8,294.0 L82.8,290.1" fill="none" stroke="#2465a0" stroke-width="1.55" stroke-dasharray="4.0 2.2"/>
<path d="M82.8,290.1 L88.3,290.1" fill="none" stroke="#2465a0" stroke-width="1.55" stroke-dasharray="4.0 2.2"/>
<path d="M88.3,290.1 L88.3,287.0" fill="none" stroke="#2465a0" stroke-width="1.55" stroke-dasharray="4.0 2.2"/>
<path d="M88.3,287.0 L89.4,287.0" fill="none" stroke="#2465a0" stroke-width="1.55" stroke-dasharray="4.0 2.2"/>
<path d="M89.4,287.0 L89.4,282.5" fill="none" stroke="#2465a0" stroke-width="1.55" stroke-dasharray="4.0 2.2"/>
<path d="M89.4,282.5 L90.3,279.2" fill="none" stroke="#2465a0" stroke-width="1.55" stroke-dasharray="4.0 2.2"/>
<path d="M90.3,279.2 L90.3,278.7" fill="none" stroke="#2465a0" stroke-width="1.55" stroke-dasharray="4.0 2.2"/>
<path d="M90.3,278.7 L107.3,278.7" fill="none" stroke="#2465a0" stroke-width="1.55" stroke-dasharray="4.0 2.2"/>
<path d="M107.3,278.7 L107.3,274.6" fill="none" stroke="#2465a0" stroke-width="1.55" stroke-dasharray="4.0 2.2"/>
<path d="M107.3,274.6 L145.0,274.6" fill="none" stroke="#2465a0" stroke-width="1.55" stroke-dasharray="4.0 2.2"/>
<path d="M145.0,274.6 L145.0,269.3" fill="none" stroke="#2465a0" stroke-width="1.55" stroke-dasharray="4.0 2.2"/>
<path d="M145.0,269.3 L184.0,269.3" fill="none" stroke="#2465a0" stroke-width="1.55" stroke-dasharray="4.0 2.2"/>
<path d="M184.0,269.3 L184.0,256.0" fill="none" stroke="#2465a0" stroke-width="1.55" stroke-dasharray="4.0 2.2"/>
<path d="M184.0,256.0 L252.5,256.0" fill="none" stroke="#2465a0" stroke-width="1.55" stroke-dasharray="4.0 2.2"/>
<path d="M61.8,309.4 H71.4 L74.5,305.8 H80.2 L81.5,302.5 H85.2 L86,299 L88,294.4 L89.5,290 L91.7,287 H95.5 L96.3,285.9 H100 L102.3,282 H105.6 L106.6,280 L108.3,279 H113 L115,277.3 L117.6,275.6 L118.6,273.6 L121.6,273 L123,270.7 H145 V269.4 H156 V267.9 H162 V266.4 H173 V263.5 H205.5 V261.6 H252.5" fill="none" stroke="#cc1531" stroke-width="1.35" stroke-linejoin="miter"/>
<text x="177.8" y="250.5" font-size="8.8" text-anchor="start" font-weight="normal" fill="#333333" textLength="52.1" lengthAdjust="spacingAndGlyphs" stroke="#333333" stroke-width="0.18">CAR-T therapy</text>
<text x="91.0" y="299.5" font-size="8.8" text-anchor="start" font-weight="normal" fill="#333333" textLength="34.9" lengthAdjust="spacingAndGlyphs" stroke="#333333" stroke-width="0.18">Auto HCT</text>
<path d="M318.7,201.0 L321.0,205.1" fill="none" stroke="#2465a0" stroke-width="1.55" stroke-dasharray="4.0 2.2"/>
<path d="M321.0,205.1 L331.8,205.1" fill="none" stroke="#2465a0" stroke-width="1.55" stroke-dasharray="4.0 2.2"/>
<path d="M331.8,205.1 L331.8,208.5" fill="none" stroke="#2465a0" stroke-width="1.55" stroke-dasharray="4.0 2.2"/>
<path d="M331.8,208.5 L338.8,208.5" fill="none" stroke="#2465a0" stroke-width="1.55" stroke-dasharray="4.0 2.2"/>
<path d="M338.8,208.5 L339.7,212.6" fill="none" stroke="#2465a0" stroke-width="1.55" stroke-dasharray="4.0 2.2"/>
<path d="M339.7,212.6 L352.4,212.6" fill="none" stroke="#2465a0" stroke-width="1.55" stroke-dasharray="4.0 2.2"/>
<path d="M352.4,212.6 L352.4,216.5" fill="none" stroke="#2465a0" stroke-width="1.55" stroke-dasharray="4.0 2.2"/>
<path d="M352.4,216.5 L363.3,216.5" fill="none" stroke="#2465a0" stroke-width="1.55" stroke-dasharray="4.0 2.2"/>
<path d="M363.3,216.5 L363.3,220.5" fill="none" stroke="#2465a0" stroke-width="1.55" stroke-dasharray="4.0 2.2"/>
<path d="M363.3,220.5 L396.0,220.5" fill="none" stroke="#2465a0" stroke-width="1.55" stroke-dasharray="4.0 2.2"/>
<path d="M396.0,220.5 L396.0,225.0" fill="none" stroke="#2465a0" stroke-width="1.55" stroke-dasharray="4.0 2.2"/>
<path d="M396.0,225.0 L404.1,225.0" fill="none" stroke="#2465a0" stroke-width="1.55" stroke-dasharray="4.0 2.2"/>
<path d="M404.1,225.0 L404.1,230.1" fill="none" stroke="#2465a0" stroke-width="1.55" stroke-dasharray="4.0 2.2"/>
<path d="M404.1,230.1 L414.4,230.1" fill="none" stroke="#2465a0" stroke-width="1.55" stroke-dasharray="4.0 2.2"/>
<path d="M414.4,230.1 L414.4,236.6" fill="none" stroke="#2465a0" stroke-width="1.55" stroke-dasharray="4.0 2.2"/>
<path d="M414.4,236.6 L475.5,236.6" fill="none" stroke="#2465a0" stroke-width="1.55" stroke-dasharray="4.0 2.2"/>
<path d="M475.5,236.6 L475.5,255.1" fill="none" stroke="#2465a0" stroke-width="1.55" stroke-dasharray="4.0 2.2"/>
<path d="M475.5,255.1 L508.0,255.1" fill="none" stroke="#2465a0" stroke-width="1.55" stroke-dasharray="4.0 2.2"/>
<path d="M318.7,201 H319.6 L321.4,204.1 H332.6 L335.1,207.6 H339.5 L341.8,211 H357.5 V212.7 H367 L369.6,217.9 L371.4,220.5 H378.3 V225.1 H384.5 L386.4,226.8 L387.5,228.3 H397 V229.8 H416 V231.2 H480 V232.7 H494.6 V234.2 H508" fill="none" stroke="#cc1531" stroke-width="1.35" stroke-linejoin="miter"/>
<text x="419.6" y="225.9" font-size="8.8" text-anchor="start" font-weight="normal" fill="#333333" textLength="34.6" lengthAdjust="spacingAndGlyphs" stroke="#333333" stroke-width="0.18">Auto HCT</text>
<text x="408.7" y="248.9" font-size="8.8" text-anchor="start" font-weight="normal" fill="#333333" textLength="51.9" lengthAdjust="spacingAndGlyphs" stroke="#333333" stroke-width="0.18">CAR-T therapy</text>
<rect x="0.6" y="0.6" width="518.8" height="359.8" fill="none" stroke="#151213" stroke-width="1.3"/>
</svg>
</body></html>
